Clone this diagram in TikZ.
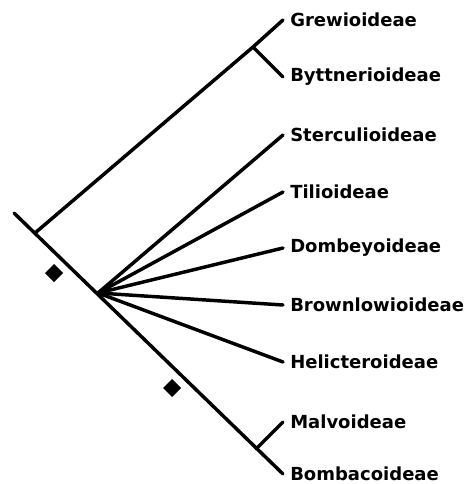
\documentclass[tikz,border=0pt]{standalone}
\usepackage{fontspec}
\setmainfont{DejaVu Sans}
\usepackage{tikz}
\tikzset{
  branch/.style={draw=black,line width=2.6pt,line cap=round},
  taxon/.style={anchor=west,inner sep=0pt,font=\bfseries\fontsize{13.5}{15}\selectfont}
}
\begin{document}
\begin{tikzpicture}[x=0.75pt,y=-0.75pt]
\useasboundingbox (0,0) rectangle (470,484);
% inner points of the tree
\coordinate (root) at (14,213);
\coordinate (grewbase) at (35,233);
\coordinate (hub) at (98,293);
\coordinate (grewjoin) at (253,47);
\coordinate (malvjoin) at (256,449);
% tips and names
\foreach \nm/\yy/\tx in {grew/20/Grewioideae,bytt/77/Byttnerioideae,sterc/135/Sterculioideae,
  tilio/192/Tilioideae,dombe/248/Dombeyoideae,brown/305/Brownlowioideae,helic/362/Helicteroideae,
  malvo/422/Malvoideae,bomba/474/Bombacoideae}{
  \coordinate (t\nm) at (283,\yy);
  \node[taxon] (\nm) at (290,\yy) {\tx};
}
% backbone
\draw[branch] (root) -- (tbomba);
\draw[branch] (grewbase) -- (grewjoin) -- (tgrew);
\draw[branch] (grewjoin) -- (tbytt);
\draw[branch] (malvjoin) -- (tmalvo);
\foreach \nm in {sterc,tilio,dombe,brown,helic}
  \draw[branch] (hub) -- (t\nm);
% diamonds
\fill (54,264) -- (63,273) -- (54,282) -- (45,273) -- cycle;
\fill (172,379) -- (181,388) -- (172,397) -- (163,388) -- cycle;
\end{tikzpicture}
\end{document}
